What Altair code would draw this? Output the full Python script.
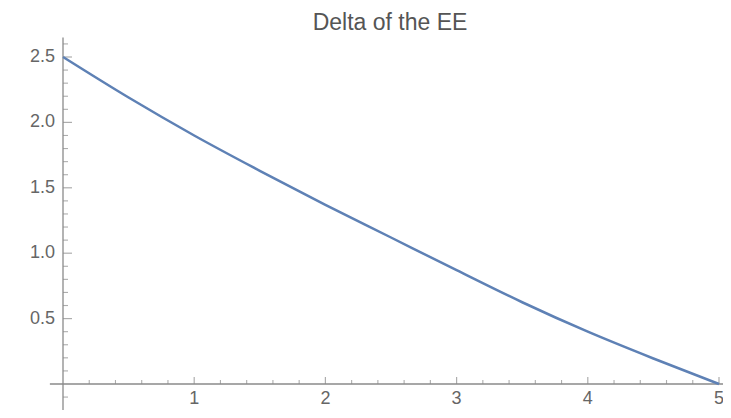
import altair as alt
import pandas as pd
import numpy as np

# ---- data ----
x_vals = [0.0, 0.5, 1.0, 1.5, 2.0, 2.5, 3.0, 3.5, 4.0, 4.5, 5.0]
y_vals = [2.5, 2.19, 1.90, 1.63, 1.37, 1.12, 0.87, 0.625, 0.40, 0.195, 0.0]

x_major = [1, 2, 3, 4, 5]
x_labels = ["1", "2", "3", "4", "5"]
y_major = [0.5, 1.0, 1.5, 2.0, 2.5]
y_labels = ["0.5", "1.0", "1.5", "2.0", "2.5"]
x_minor = [0.2, 0.4, 0.6, 0.8, 1.2, 1.4, 1.6, 1.8, 2.2, 2.4, 2.6, 2.8,
           3.2, 3.4, 3.6, 3.8, 4.2, 4.4, 4.6, 4.8]
y_minor = [-0.1, 0.1, 0.2, 0.3, 0.4, 0.6, 0.7, 0.8, 0.9, 1.1, 1.2, 1.3, 1.4,
           1.6, 1.7, 1.8, 1.9, 2.1, 2.2, 2.3, 2.4, 2.6]
title_text = "Delta of the EE"

# ---- layout ----
XD = [-0.4192, 5.0305]
YD = [-0.1988, 2.8746]
x_axis_start = -0.1
y_axis_top = 2.65

FONT = "Liberation Sans"
AXIS_COLOR = "#8a8a8a"
LABEL_COLOR = "#666666"

xs = alt.Scale(domain=XD, nice=False, zero=False)
ys = alt.Scale(domain=YD, nice=False, zero=False)

def X(f="x"):
    return alt.X(f"{f}:Q", scale=xs, axis=None)

def Y(f="y"):
    return alt.Y(f"{f}:Q", scale=ys, axis=None)

curve_df = pd.DataFrame({"x": x_vals, "y": y_vals})

xaxis_df = pd.DataFrame({"x": [x_axis_start], "x2": [XD[1]], "y": [0.0]})
yaxis_df = pd.DataFrame({"x": [0.0], "y": [YD[0]], "y2": [y_axis_top]})

xmaj_df = pd.DataFrame({"x": x_major, "y": [0.0] * len(x_major), "lab": x_labels})
xmin_df = pd.DataFrame({"x": x_minor, "y": [0.0] * len(x_minor)})
ymaj_df = pd.DataFrame({"y": y_major, "x": [0.0] * len(y_major), "lab": y_labels})
ymin_df = pd.DataFrame({"y": y_minor, "x": [0.0] * len(y_minor)})
title_df = pd.DataFrame({"t": [title_text]})

xaxis = alt.Chart(xaxis_df).mark_rule(color=AXIS_COLOR, strokeWidth=1.3).encode(
    x=X(), x2="x2:Q", y=Y())
yaxis = alt.Chart(yaxis_df).mark_rule(color=AXIS_COLOR, strokeWidth=1.3).encode(
    x=X(), y=Y(), y2="y2:Q")

xmaj = alt.Chart(xmaj_df).mark_tick(orient="vertical", size=7, thickness=1.2,
                                    yOffset=-3.5, color=AXIS_COLOR).encode(x=X(), y=Y())
xmin = alt.Chart(xmin_df).mark_tick(orient="vertical", size=4, thickness=1.1,
                                    yOffset=-2, color=AXIS_COLOR).encode(x=X(), y=Y())
ymaj = alt.Chart(ymaj_df).mark_tick(orient="horizontal", size=9, thickness=1.2,
                                    xOffset=4.5, color=AXIS_COLOR).encode(x=X(), y=Y())
ymin = alt.Chart(ymin_df).mark_tick(orient="horizontal", size=5, thickness=1.1,
                                    xOffset=2.5, color=AXIS_COLOR).encode(x=X(), y=Y())

xlab = alt.Chart(xmaj_df).mark_text(align="center", baseline="top", dy=6,
                                    font=FONT, fontSize=18, color=LABEL_COLOR).encode(
    x=X(), y=Y(), text="lab:N")
ylab = alt.Chart(ymaj_df).mark_text(align="right", baseline="middle", dx=-8,
                                    font=FONT, fontSize=18, color=LABEL_COLOR).encode(
    x=X(), y=Y(), text="lab:N")

curve = alt.Chart(curve_df).mark_line(color="#5E81B5", strokeWidth=2.5,
                                      interpolate="monotone").encode(x=X(), y=Y())

title = alt.Chart(title_df).mark_text(align="center", baseline="alphabetic",
                                      font=FONT, fontSize=23, color="#555555").encode(
    x=alt.value(382), y=alt.value(22), text="t:N")

chart = alt.layer(xaxis, yaxis, xmin, xmaj, ymin, ymaj, xlab, ylab, curve, title).properties(
    width=715, height=402, padding=0, autosize="none"
).configure_view(strokeWidth=0)

chart.save("out.html", embed_options={"renderer": "svg", "actions": False})
